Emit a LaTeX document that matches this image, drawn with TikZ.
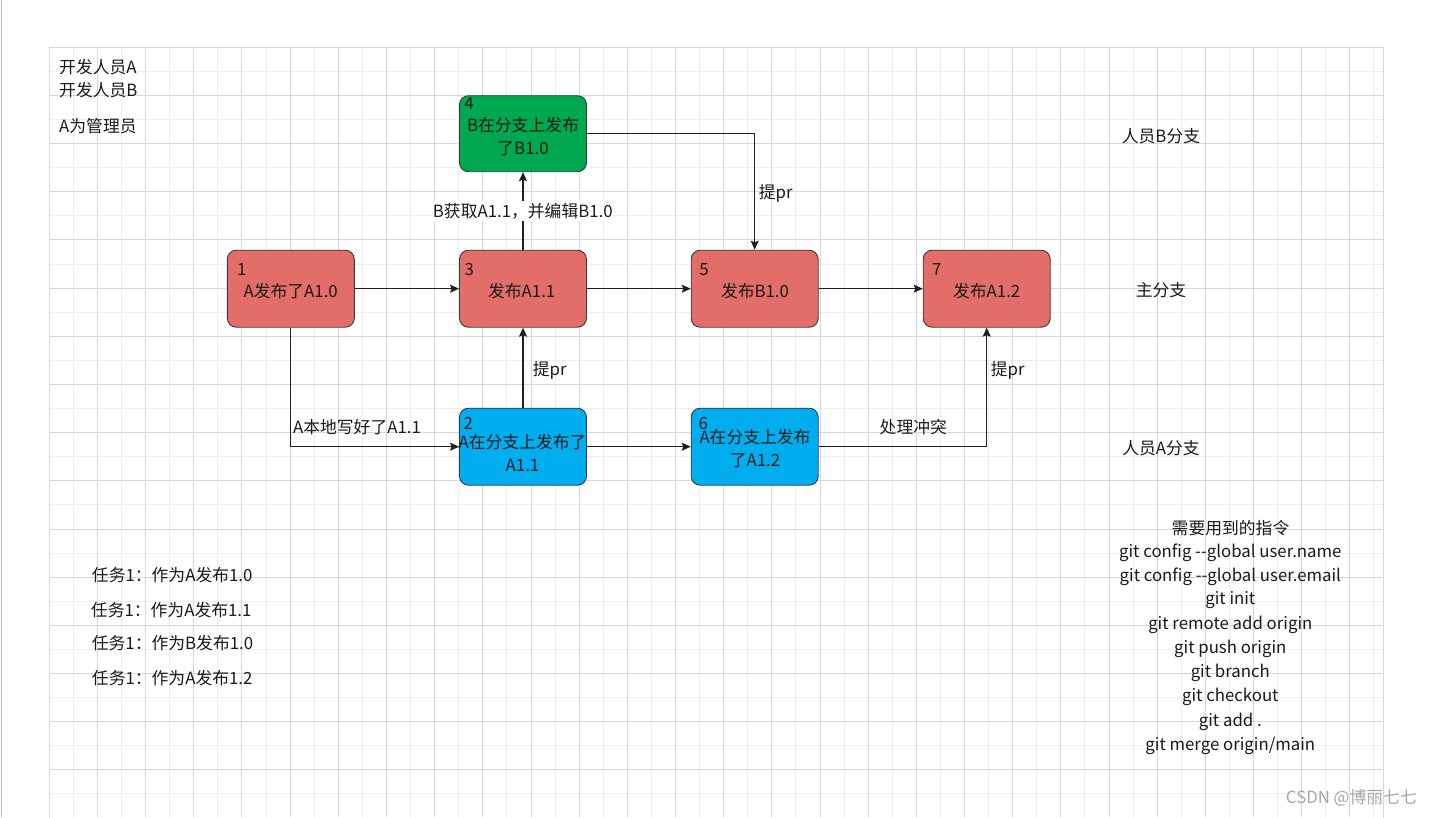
\documentclass[tikz,border=0pt]{standalone}
\usepackage{fontspec}
\setmainfont{Noto Sans CJK SC}
\usetikzlibrary{arrows.meta}
\definecolor{boxred}{HTML}{E36D69}
\definecolor{boxgreen}{HTML}{00A84F}
\definecolor{boxblue}{HTML}{00AEEF}
\definecolor{boxline}{HTML}{36393D}
\definecolor{edgeline}{HTML}{1F1F1F}
\definecolor{txt}{HTML}{1A1A1A}
\definecolor{gridminor}{HTML}{EDEDED}
\definecolor{gridmajor}{HTML}{D6D6D6}
\tikzset{
  box/.style={draw=boxline, line width=0.9pt, rounded corners=9pt,
    minimum width=127pt, minimum height=77pt, inner sep=0pt},
  redbox/.style={box, fill=boxred},
  greenbox/.style={box, fill=boxgreen, minimum height=76pt},
  bluebox/.style={box, fill=boxblue},
  txtnode/.style={inner sep=0pt, text=txt, font=\fontsize{16.8}{23.3}\selectfont, align=center},
  edge/.style={draw=edgeline, line width=1.2pt, -{Stealth[length=9pt,width=8pt,inset=1.5pt]}},
  minorline/.style={draw=gridminor, line width=1pt},
  majorline/.style={draw=gridmajor, line width=1pt},
}
\begin{document}
\begin{tikzpicture}[x=1pt,y=-1pt]
\useasboundingbox (0,0) rectangle (1432,817);
\fill[white] (0,0) rectangle (1432,817);
\draw[draw=gray!55, line width=1.5pt] (1.7,0) -- (1.7,817);
% grid
\begin{scope}
\clip (49,47) rectangle (1384,817);
\foreach \i in {1,3,...,55} {\pgfmathsetmacro\gx{floor(49.3+24.085*\i)+0.5}\draw[minorline] (\gx,47) -- (\gx,817);}
\foreach \j in {1,3,...,31} {\pgfmathsetmacro\gy{floor(47.3+24.085*\j)+0.5}\draw[minorline] (49,\gy) -- (1384,\gy);}
\foreach \i in {0,2,...,54} {\pgfmathsetmacro\gx{floor(49.3+24.085*\i)+0.5}\draw[majorline] (\gx,47) -- (\gx,817);}
\foreach \j in {0,2,...,30} {\pgfmathsetmacro\gy{floor(47.3+24.085*\j)+0.5}\draw[majorline] (49,\gy) -- (1384,\gy);}
\end{scope}
\draw[majorline] (49.5,818) -- (49.5,47.5) -- (1383.5,47.5) -- (1383.5,818);

% boxes
\node[redbox] (n1) at (290.8,288.7) {};
\node[redbox] (n3) at (523,288.7) {};
\node[redbox] (n5) at (754.7,288.7) {};
\node[redbox] (n7) at (986.7,288.7) {};
\node[greenbox] (n4) at (523,133.7) {};
\node[bluebox] (n2) at (523,446.7) {};
\node[bluebox] (n6) at (754.7,446.7) {};

% box texts
\node[txtnode] (k1) at (241.7,269.3) {1};
\node[txtnode] (t1) at (290.7,290.7) {A发布了A1.0};
\node[txtnode] (k3) at (469.3,269.3) {3};
\node[txtnode] (t3) at (521.7,290.7) {发布A1.1};
\node[txtnode] (k5) at (704,269.3) {5};
\node[txtnode] (t5) at (755,290.7) {发布B1.0};
\node[txtnode] (k7) at (936.7,269.3) {7};
\node[txtnode] (t7) at (986.7,290.7) {发布A1.2};
\node[txtnode] (k4) at (469,104) {4};
\node[txtnode] (t4) at (523,136.7) {B在分支上发布\\了B1.0};
\node[txtnode] (k2) at (468.3,423.3) {2};
\node[txtnode] (t2) at (522.5,453.3) {A在分支上发布了\\A1.1};
\node[txtnode] (k6) at (703.3,423.3) {6};
\node[txtnode] (t6) at (755,448.7) {A在分支上发布\\了A1.2};

% connectors
\draw[edge] (n1.east) -- (n3.west);
\draw[edge] (n3.east) -- (n5.west);
\draw[edge] (n5.east) -- (n7.west);
\draw[edge] (n3.north) -- (n4.south);
\draw[edge] (n2.north) -- (n3.south);
\draw[edge] (n4.east) -| (n5.north);
\draw[edge] (n1.south) |- (n2.west);
\draw[edge] (n2.east) -- (n6.west);
\draw[edge] (n6.east) -| (n7.south);

% connector labels
\node[txtnode, fill=white, inner ysep=2pt] (l34) at (522.8,211) {B获取A1.1，并编辑B1.0};
\node[txtnode] (l23) at (549.7,370) {提pr};
\node[txtnode] (l45) at (775.7,193.3) {提pr};
\node[txtnode] (l12) at (357,427.3) {A本地写好了A1.1};
\node[txtnode] (l67a) at (913.3,427.3) {处理冲突};
\node[txtnode] (l67b) at (1007.8,370) {提pr};

% top-left notes
\node[txtnode, anchor=west] (d1) at (59,66.7) {开发人员A};
\node[txtnode, anchor=west] (d2) at (59,90) {开发人员B};
\node[txtnode, anchor=west] (d3) at (59,126) {A为管理员};

% lane labels
\node[txtnode] (r1) at (1161,136) {人员B分支};
\node[txtnode] (r2) at (1161,290) {主分支};
\node[txtnode] (r3) at (1161,448) {人员A分支};

% tasks
\node[txtnode] (q1) at (172.2,575) {任务1：作为A发布1.0};
\node[txtnode] (q2) at (171.2,610) {任务1：作为A发布1.1};
\node[txtnode] (q3) at (172.5,643.3) {任务1：作为B发布1.0};
\node[txtnode] (q4) at (172.2,677.7) {任务1：作为A发布1.2};

% commands
\node[txtnode] (c0) at (1230.5,528.3) {需要用到的指令};
\node[txtnode] (c1) at (1230.3,552.3) {git config -{}-global user.name};
\node[txtnode] (c2) at (1230.3,576.7) {git config -{}-global user.email};
\node[txtnode] (c3) at (1230.3,600.5) {git init};
\node[txtnode] (c4) at (1230.3,624.8) {git remote add origin};
\node[txtnode] (c5) at (1230.3,649) {git push origin};
\node[txtnode] (c6) at (1230.3,673.3) {git branch};
\node[txtnode] (c7) at (1230.3,697.3) {git checkout};
\node[txtnode] (c8) at (1230.3,721.7) {git add .};
\node[txtnode] (c9) at (1230.3,746) {git merge origin/main};

% watermark
\node[txtnode, text=gray!70, anchor=east] (wm) at (1417,798) {CSDN @博丽七七};
\end{tikzpicture}
\end{document}
